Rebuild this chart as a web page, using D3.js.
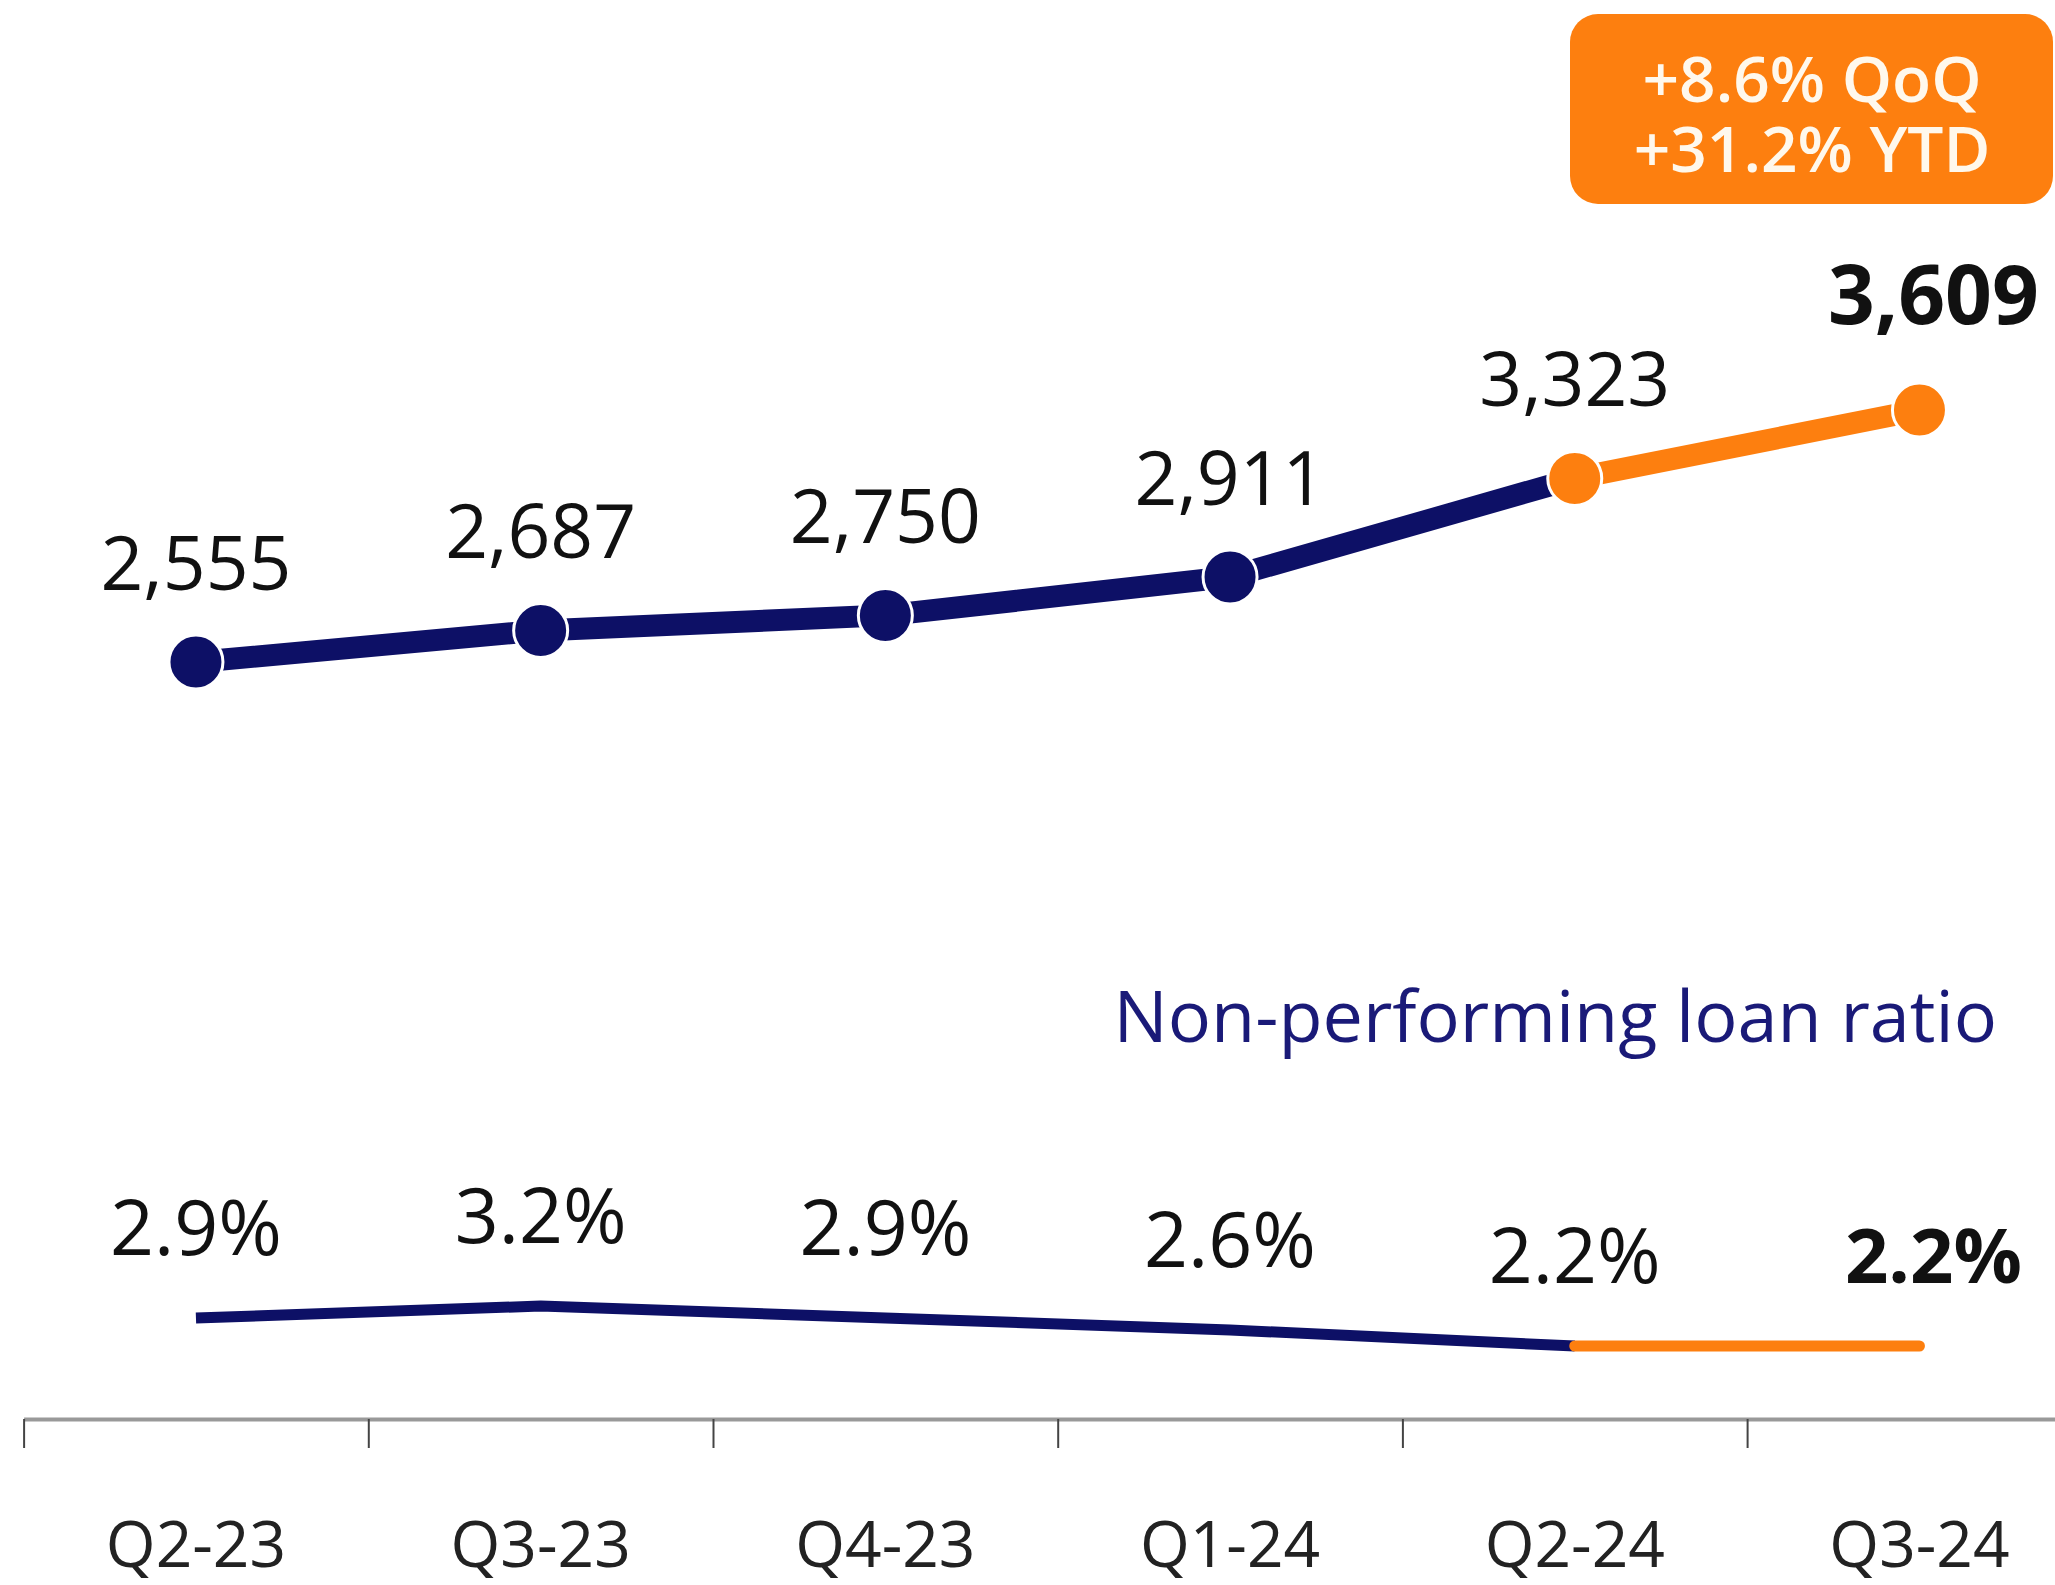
<!DOCTYPE html>
<html>
<head>
<meta charset="utf-8">
<script src="https://cdn.jsdelivr.net/npm/d3@7"></script>
<style>
  body { margin: 0; background: #fff; }
  text { font-family: "Open Sans", sans-serif; }
</style>
</head>
<body>
<svg id="loanChart"></svg>
<script>
// data
const quarters = ['Q2-23', 'Q3-23', 'Q4-23', 'Q1-24', 'Q2-24', 'Q3-24'];
const loans = [2555, 2687, 2750, 2911, 3323, 3609];
const nplRatio = [2.9, 3.2, 2.9, 2.6, 2.2, 2.2];
const growthLines = ['+8.6% QoQ', '+31.2% YTD'];
const nplTitle = 'Non-performing loan ratio';

// colours
let navy = '#0d1066';
let orange = '#fd7f0f';

// svg size
let widthSVG = 2055;
let heightSVG = 1585;

let SVG = d3.select('svg#loanChart')
            .attr('width', widthSVG)
            .attr('height', heightSVG);

// axis position and band layout
let axisY = 1419;
let axisLeft = 23.6;
let bandW = 344.7;

let x = d3.scaleBand()
          .domain(quarters)
          .range([axisLeft, axisLeft + bandW * quarters.length]);
let cx = d => x(d) + x.bandwidth() / 2;

// y scales for the two lines
let yLoan = d3.scaleLinear().domain([2555, 3609]).range([662, 410]);
let yNpl = d3.scaleLinear().domain([2.2, 3.2]).range([1346, 1306]);

let loanData = quarters.map((q, i) => ({ q: q, v: loans[i], last: i === quarters.length - 1 }));
let nplData = quarters.map((q, i) => ({ q: q, v: nplRatio[i], last: i === quarters.length - 1 }));

// split point: last two quarters are orange
let split = quarters.length - 2;

// ---- loan line ----
let loanLine = d3.line().x(d => cx(d.q)).y(d => yLoan(d.v));

SVG.append('path')
   .datum(loanData.slice(0, split + 1))
   .attr('d', loanLine)
   .style('fill', 'none')
   .style('stroke', navy)
   .style('stroke-width', 22);

SVG.append('path')
   .datum(loanData.slice(split))
   .attr('d', loanLine)
   .style('fill', 'none')
   .style('stroke', orange)
   .style('stroke-width', 22);

SVG.selectAll('circle.loanDot')
   .data(loanData)
   .enter()
   .append('circle')
   .attr('class', 'loanDot')
   .attr('cx', d => cx(d.q))
   .attr('cy', d => yLoan(d.v))
   .attr('r', 27)
   .style('fill', (d, i) => i >= split ? orange : navy)
   .style('stroke', '#fff')
   .style('stroke-width', 3);

SVG.selectAll('text.loanLabel')
   .data(loanData)
   .enter()
   .append('text')
   .attr('class', 'loanLabel')
   .text(d => d3.format(',')(d.v))
   .attr('x', d => cx(d.q) + (d.last ? 14 : 0))
   .attr('y', d => yLoan(d.v) - (d.last ? 86 : 72))
   .style('text-anchor', 'middle')
   .style('font-size', d => d.last ? '82px' : '75px')
   .style('font-weight', d => d.last ? 700 : 400)
   .style('fill', '#111');

// ---- growth badge ----
SVG.append('rect')
   .attr('x', 1570)
   .attr('y', 14)
   .attr('width', 483)
   .attr('height', 190)
   .attr('rx', 28)
   .style('fill', orange);

// one text block, one tspan per line
let growthText = SVG.append('text')
   .attr('class', 'growth')
   .attr('y', 102)
   .style('text-anchor', 'middle')
   .style('font-size', '64px')
   .style('font-weight', 600)
   .style('fill', '#fff8ec');

growthText.selectAll('tspan')
   .data(growthLines)
   .enter()
   .append('tspan')
   .text(d => d)
   .attr('x', 1812)
   .attr('dy', (d, i) => i === 0 ? 0 : 70);

// ---- NPL ratio ----
SVG.append('text')
   .text(nplTitle)
   .attr('x', 1997)
   .attr('y', 1042)
   .style('text-anchor', 'end')
   .style('font-size', '72px')
   .style('fill', '#1a1a78');

let nplLine = d3.line().x(d => cx(d.q)).y(d => yNpl(d.v));

SVG.append('path')
   .datum(nplData.slice(0, split + 1))
   .attr('d', nplLine)
   .style('fill', 'none')
   .style('stroke', navy)
   .style('stroke-width', 11)
   .style('stroke-linejoin', 'round');

SVG.append('path')
   .datum(nplData.slice(split))
   .attr('d', nplLine)
   .style('fill', 'none')
   .style('stroke', orange)
   .style('stroke-width', 11)
   .style('stroke-linecap', 'round');

SVG.selectAll('text.nplLabel')
   .data(nplData)
   .enter()
   .append('text')
   .attr('class', 'nplLabel')
   .text(d => d.v.toFixed(1) + '%')
   .attr('x', d => cx(d.q) + (d.last ? 14 : 0))
   .attr('y', d => yNpl(d.v) - 63)
   .style('text-anchor', 'middle')
   .style('font-size', d => d.last ? '76px' : '77px')
   .style('font-weight', d => d.last ? 700 : 400)
   .style('fill', '#111');

// ---- x axis ----
let xTicks = d3.scaleLinear()
               .domain([0, quarters.length])
               .range([axisLeft, axisLeft + bandW * quarters.length]);

let tickAxis = d3.axisBottom(xTicks)
                 .tickValues(d3.range(0, quarters.length))
                 .tickSize(29)
                 .tickSizeOuter(0)
                 .tickFormat('');

let tickG = SVG.append('g')
               .attr('class', 'x axis')
               .attr('transform', `translate(0, ${axisY})`)
               .call(tickAxis);

tickG.select('.domain')
     .style('stroke', '#999')
     .style('stroke-width', 4);
tickG.selectAll('.tick line')
     .style('stroke', '#444')
     .style('stroke-width', 2);

let labelAxis = d3.axisBottom(x).tickSize(0);

let labelG = SVG.append('g')
                .attr('class', 'x axis labels')
                .attr('transform', `translate(0, ${axisY})`)
                .call(labelAxis);

labelG.select('.domain').remove();
labelG.selectAll('.tick text')
      .attr('y', 148)
      .attr('dy', 0)
      .style('font-family', '"Open Sans", sans-serif')
      .style('font-size', '64px')
      .style('fill', '#222');
</script>
</body>
</html>
